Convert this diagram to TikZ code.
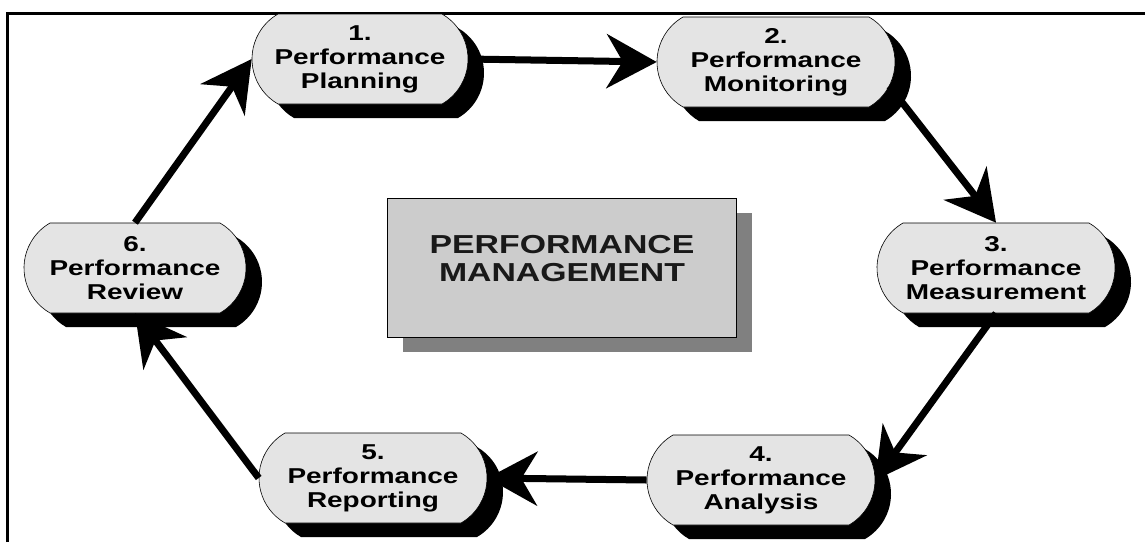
\documentclass[tikz,border=0pt]{standalone}
\usepackage{fontspec}
\setmainfont{Liberation Sans}[FakeStretch=1.3]
\usetikzlibrary{shapes.misc,shadows,arrows.meta}

\definecolor{stagegray}{HTML}{E4E4E4}
\definecolor{boxgray}{HTML}{CCCCCC}
\definecolor{boxshadow}{HTML}{808080}

\begin{document}
\begin{tikzpicture}[x=1pt,y=-1pt,
    stage/.style={rounded rectangle, rounded rectangle arc length=120,
        draw=black, line width=0.6pt, fill=stagegray,
        minimum width=232pt, minimum height=90pt, inner sep=2pt,
        align=center, font=\fontsize{21.5}{24}\selectfont\bfseries,
        drop shadow={shadow xshift=16pt, shadow yshift=-14pt, fill=black, opacity=1}},
    pmbox/.style={rectangle, draw=black, line width=0.6pt, fill=boxgray,
        minimum width=349pt, minimum height=139pt,
        drop shadow={shadow xshift=15pt, shadow yshift=-14pt, fill=boxshadow, opacity=1}},
    pmtitle/.style={align=center, font=\fontsize{26}{28}\selectfont\bfseries, text=black!90},
    flow/.style={line width=7pt, -{Stealth[length=50pt,width=54pt,inset=16pt]}}]

    \useasboundingbox (0,0) rectangle (1145,542);
    \draw[line width=3pt] (7,542) -- (7,13) -- (1145,13);

    \node[pmbox] (pm) at (562,268) {};
    \node[pmtitle] (pmt) at (562,259) {PERFORMANCE\\MANAGEMENT};

    \node[stage, minimum width=220pt] (plan) at (360,59) {1.\\Performance\\Planning};
    \node[stage, minimum width=242pt] (mon) at (776,62) {2.\\Performance\\Monitoring};
    \node[stage, minimum width=242pt] (meas) at (996,268) {3.\\Performance\\Measurement};
    \node[stage] (anal) at (761,480) {4.\\Performance\\Analysis};
    \node[stage] (rep) at (373,478) {5.\\Performance\\Reporting};
    \node[stage, minimum width=226pt] (rev) at (135,268) {6.\\Performance\\Review};

    \draw[flow] (plan.east) -- (mon.west);
    \draw[flow] (mon.-12) -- (meas.north);
    \draw[flow] (meas.south) -- (anal.east);
    \draw[flow] (anal.west) -- (rep.east);
    \draw[flow] (rep.west) -- (rev.south);
    \draw[flow] (rev.north) -- (plan.west);
\end{tikzpicture}
\end{document}
